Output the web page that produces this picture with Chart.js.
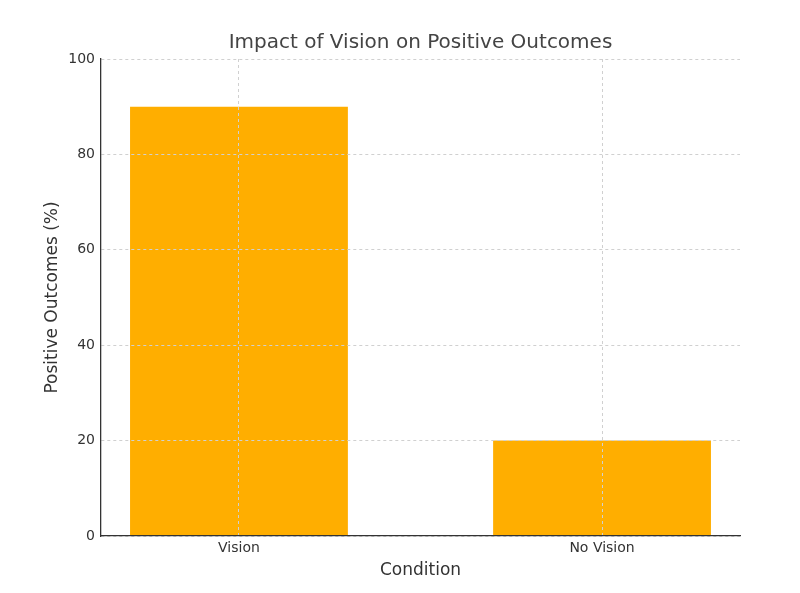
<!DOCTYPE html>
<html>
<head>
<meta charset="utf-8">
<script src="https://cdn.jsdelivr.net/npm/chart.js@4/dist/chart.umd.min.js"></script>
<style>
  html, body { margin: 0; padding: 0; background: #fff; }
  #wrap { width: 800px; height: 593px; }
</style>
</head>
<body>
<div id="wrap"><canvas id="chart" width="800" height="593"></canvas></div>
<script>
const categories = ['Vision', 'No Vision'];
const outcomes = [90, 20];
const yTicks = [0, 20, 40, 60, 80, 100];

const textColor = '#333333';
const gridColor = '#d0d0d0';
const axisColor = '#333333';

const ctx = document.getElementById('chart').getContext('2d');
new Chart(ctx, {
    type: 'bar',
    data: {
        datasets: [{
            label: 'Positive Outcomes',
            data: categories.map((c, i) => ({x: i, y: outcomes[i]})),
            backgroundColor: '#ffae00',
            borderWidth: 0,
            barPercentage: 0.6,
            categoryPercentage: 1.0,
        }],
    },
    options: {
        responsive: false,
        animation: false,
        devicePixelRatio: 1,
        layout: { padding: { top: 0, right: 60, bottom: 0, left: 0 } },
        plugins: {
            legend: { display: false },
            tooltip: { enabled: false },
            title: {
                display: true,
                text: 'Impact of Vision on Positive Outcomes',
                color: '#444444',
                font: { family: 'DejaVu Sans', size: 20, weight: 'normal' },
                padding: { top: 31, bottom: 4 },
                fullSize: false,
            },
        },
        scales: {
            x: {
                type: 'linear',
                min: -0.38,
                max: 1.38,
                offset: false,
                afterBuildTicks: (axis) => {
                    axis.ticks = categories.map((c, i) => ({value: i}));
                },
                afterFit: (axis) => { axis.height = 57; },
                ticks: {
                    color: textColor,
                    font: { family: 'DejaVu Sans', size: 14 },
                    padding: 4,
                    callback: (v) => categories[v],
                },
                // grid on top of the bars, like the original
                grid: { color: gridColor, lineWidth: 1, drawTicks: false, offset: false, z: 1 },
                border: { display: true, color: axisColor, width: 1.3, dash: [3, 3], z: 2 },
                title: {
                    display: true,
                    text: 'Condition',
                    color: textColor,
                    font: { family: 'DejaVu Sans', size: 17 },
                    padding: { top: 6, bottom: 12 },
                },
            },
            y: {
                min: 0,
                max: 100,
                afterBuildTicks: (axis) => {
                    axis.ticks = yTicks.map((v) => ({value: v}));
                },
                afterFit: (axis) => { axis.width = 101; },
                ticks: {
                    color: textColor,
                    font: { family: 'DejaVu Sans', size: 14 },
                    padding: 6,
                },
                grid: { color: gridColor, lineWidth: 1, drawTicks: false, z: 1 },
                border: { display: true, color: axisColor, width: 1.3, dash: [3, 3], z: 2 },
                title: {
                    display: true,
                    text: 'Positive Outcomes (%)',
                    color: textColor,
                    font: { family: 'DejaVu Sans', size: 17 },
                    padding: { top: 42, bottom: 0 },
                },
            },
        },
    },
});
</script>
</body>
</html>
